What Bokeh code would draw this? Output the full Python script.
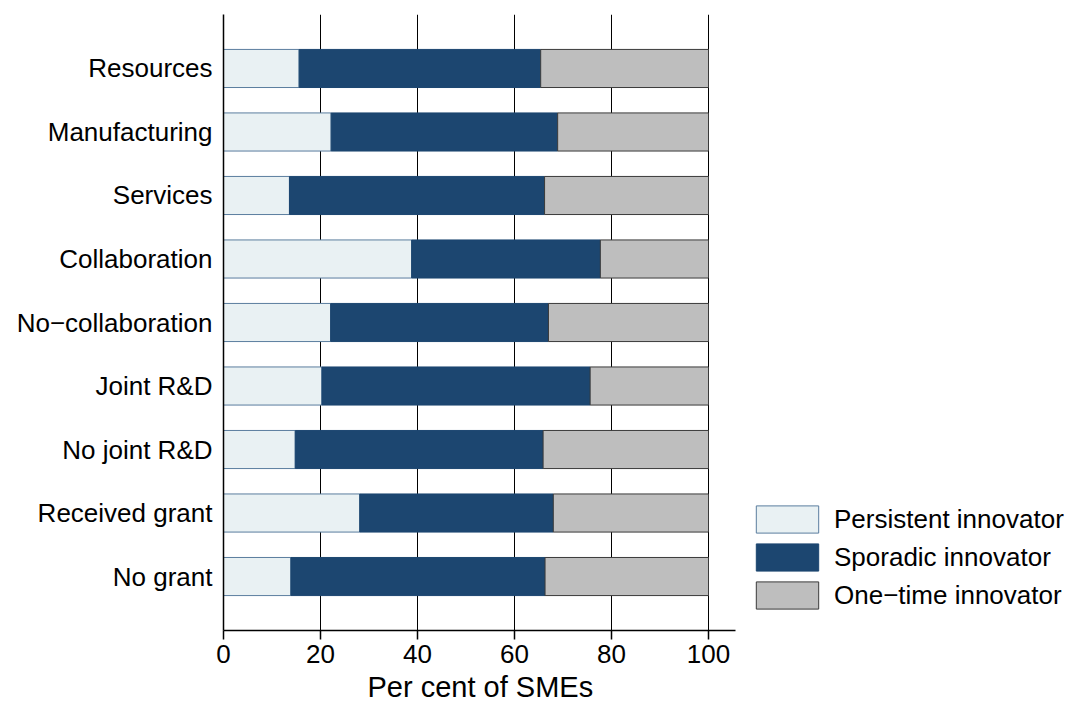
from bokeh.plotting import figure
from bokeh.models import ColumnDataSource, Range1d, Legend, LegendItem, FixedTicker, Title
from bokeh.embed import file_html
from bokeh.resources import INLINE

categories = ["Resources", "Manufacturing", "Services", "Collaboration",
              "No\u2212collaboration", "Joint R&D", "No joint R&D",
              "Received grant", "No grant"]
persistent = [15.6, 22.2, 13.6, 38.8, 22.1, 20.3, 14.8, 28.1, 13.9]
sporadic = [49.8, 46.7, 52.6, 38.9, 44.9, 55.3, 51.1, 39.9, 52.4]
one_time = [34.6, 31.1, 33.8, 22.3, 33.0, 24.4, 34.1, 32.0, 33.7]
series_names = ["Persistent innovator", "Sporadic innovator", "One\u2212time innovator"]
x_ticks = [0, 20, 40, 60, 80, 100]
x_label = "Per cent of SMEs"

n = len(categories)
ypos = [n - i for i in range(n)]
p_end = persistent
s_end = [a + b for a, b in zip(persistent, sporadic)]
o_end = [a + b for a, b in zip(s_end, one_time)]
zeros = [0] * n

src = ColumnDataSource(dict(y=ypos, z=zeros, p=p_end, s=s_end, o=o_end))

FONT = "Liberation Sans"
W, H = 1072, 706
LEFT, TOP, BOTTOM = 223, 14, 76
PX_PER_UNIT = 4.85

p = figure(width=W, height=H, output_backend="svg", toolbar_location=None,
           x_range=Range1d(0, (W - LEFT) / PX_PER_UNIT),
           y_range=Range1d(0.15, n + 0.85),
           min_border_left=LEFT, min_border_right=0, min_border_top=TOP,
           min_border_bottom=BOTTOM)
p.outline_line_color = None
p.background_fill_color = "white"

# grid
p.ygrid.grid_line_color = None
p.xgrid.ticker = FixedTicker(ticks=[20, 40, 60, 80, 100])
p.xgrid.grid_line_color = "black"
p.xgrid.grid_line_width = 1
p.xgrid.grid_line_alpha = 1

r1 = p.hbar(y="y", left="z", right="p", height=0.6, source=src,
            fill_color="#E9F1F3", line_color="#5a7d9e", line_width=1)
r2 = p.hbar(y="y", left="p", right="s", height=0.6, source=src,
            fill_color="#1C4670", line_color="#1C4670", line_width=1)
r3 = p.hbar(y="y", left="s", right="o", height=0.6, source=src,
            fill_color="#BEBEBE", line_color="#3a3a3a", line_width=1)

# x axis
xa = p.xaxis[0]
xa.ticker = FixedTicker(ticks=x_ticks)
xa.bounds = (0, 105.6)
xa.major_label_text_font = FONT
xa.major_label_text_font_size = "26px"
xa.major_label_text_color = "black"
xa.major_label_standoff = 5
xa.axis_line_color = "black"
xa.axis_line_width = 1.5
xa.major_tick_line_color = "black"
xa.major_tick_line_width = 1.5
xa.major_tick_out = 9
xa.major_tick_in = 0
xa.minor_tick_line_color = None

# axis title centred under the 0-100 span
xt = Title(text=x_label, align="left", offset=144, standoff=6,
           text_font=FONT, text_font_size="29px", text_font_style="normal",
           text_color="black", text_line_height=0.9)
p.add_layout(xt, "below")

# y axis
ya = p.yaxis[0]
ya.ticker = FixedTicker(ticks=ypos)
ya.major_label_overrides = {y: c for y, c in zip(ypos, categories)}
ya.major_label_text_font = FONT
ya.major_label_text_font_size = "26px"
ya.major_label_text_color = "black"
ya.major_label_standoff = 5
ya.axis_line_color = "black"
ya.axis_line_width = 1.5
ya.major_tick_line_color = None
ya.minor_tick_line_color = None

legend = Legend(items=[LegendItem(label=series_names[0], renderers=[r1]),
                       LegendItem(label=series_names[1], renderers=[r2]),
                       LegendItem(label=series_names[2], renderers=[r3])],
                location=(525, 18))
legend.glyph_width = 78
legend.glyph_height = 34
legend.label_height = 34
legend.label_standoff = 8
legend.spacing = 4
legend.padding = 0
legend.margin = 0
legend.border_line_color = None
legend.background_fill_alpha = 0
legend.label_text_font = FONT
legend.label_text_font_size = "26px"
legend.label_text_color = "black"
p.add_layout(legend, "center")

open("out.html", "w").write(file_html(p, INLINE))
